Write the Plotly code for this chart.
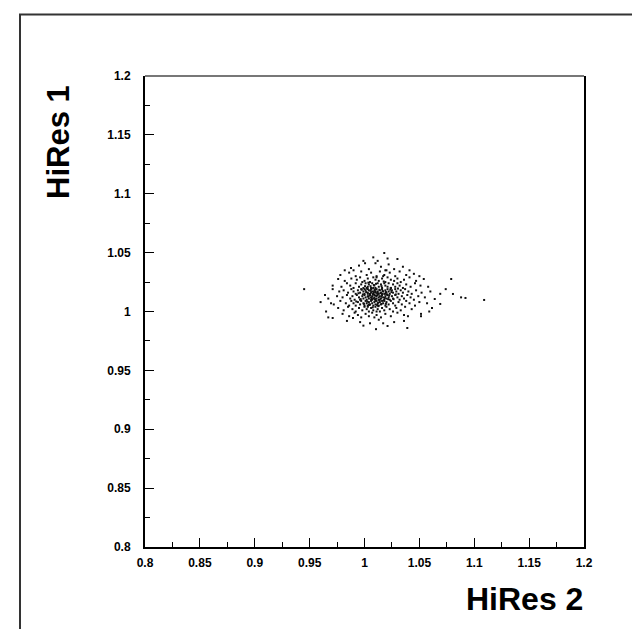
import plotly.graph_objects as go

# ---- data (estimated) ----
pts = [
    # y ~ 1.04 - 1.05
    (1.018, 1.0497), (1.021, 1.045), (1.030, 1.0446), (1.0005, 1.041), (1.012, 1.043), (1.008, 1.046),
    # y ~ 1.035 - 1.045
    (0.9877, 1.037), (0.995, 1.039), (1.004, 1.036), (1.015, 1.038), (1.022, 1.040), (1.027, 1.036),
    (1.035, 1.038), (1.041, 1.035), (0.982, 1.035), (1.010, 1.041), (1.019, 1.035), (0.999, 1.043),
    # y ~ 1.03 - 1.035
    (0.978, 1.031), (0.986, 1.033), (0.992, 1.030), (0.997, 1.034), (1.002, 1.031), (1.006, 1.033),
    (1.011, 1.030), (1.014, 1.034), (1.018, 1.031), (1.023, 1.033), (1.028, 1.030), (1.032, 1.034),
    (1.038, 1.031), (1.045, 1.032), (1.050, 1.030), (0.990, 1.035), (1.020, 1.035),
    # y ~ 1.025 - 1.03
    (0.976, 1.0276), (0.982, 1.026), (0.988, 1.028), (0.993, 1.027), (0.996, 1.029), (1.000, 1.026),
    (1.003, 1.028), (1.005, 1.025), (1.008, 1.029), (1.010, 1.027), (1.013, 1.026), (1.016, 1.028),
    (1.019, 1.025), (1.021, 1.029), (1.024, 1.027), (1.027, 1.026), (1.030, 1.028), (1.033, 1.025),
    (1.036, 1.027), (1.041, 1.029), (1.047, 1.026), (1.054, 1.0276), (1.079, 1.0276), (0.998, 1.025),
    (1.011, 1.029), (1.017, 1.030),
    # y ~ 1.02 - 1.025
    (0.971, 1.022), (0.979, 1.021), (0.984, 1.024), (0.987, 1.022), (0.990, 1.020), (0.992, 1.024),
    (0.995, 1.021), (0.997, 1.023), (0.999, 1.020), (1.001, 1.024), (1.003, 1.021), (1.004, 1.023),
    (1.006, 1.020), (1.007, 1.024), (1.009, 1.022), (1.010, 1.020), (1.012, 1.024), (1.013, 1.021),
    (1.015, 1.023), (1.016, 1.020), (1.018, 1.024), (1.019, 1.022), (1.021, 1.021), (1.022, 1.024),
    (1.024, 1.020), (1.026, 1.023), (1.028, 1.021), (1.030, 1.024), (1.032, 1.022), (1.035, 1.020),
    (1.038, 1.023), (1.042, 1.021), (1.046, 1.024), (1.051, 1.022), (1.058, 1.021), (1.074, 1.019),
    # y ~ 1.015 - 1.02
    (0.964, 1.014), (0.971, 1.019), (0.977, 1.017), (0.981, 1.018), (0.985, 1.016), (0.988, 1.019),
    (0.990, 1.017), (0.992, 1.015), (0.994, 1.018), (0.996, 1.016), (0.997, 1.019), (0.999, 1.017),
    (1.000, 1.015), (1.001, 1.018), (1.002, 1.020), (1.003, 1.016), (1.004, 1.018), (1.005, 1.015),
    (1.006, 1.019), (1.007, 1.017), (1.008, 1.015), (1.009, 1.018), (1.010, 1.016), (1.011, 1.019),
    (1.012, 1.017), (1.013, 1.015), (1.014, 1.018), (1.015, 1.016), (1.016, 1.019), (1.017, 1.017),
    (1.018, 1.015), (1.019, 1.018), (1.020, 1.016), (1.021, 1.019), (1.022, 1.017), (1.023, 1.015),
    (1.025, 1.018), (1.026, 1.016), (1.028, 1.019), (1.029, 1.017), (1.031, 1.015), (1.033, 1.018),
    (1.035, 1.016), (1.037, 1.019), (1.040, 1.017), (1.043, 1.015), (1.047, 1.018), (1.052, 1.016),
    (1.060, 1.017), (1.069, 1.015), (1.0806, 1.0149), (0.945, 1.019), (1.003, 1.019), (1.008, 1.020),
    (1.012, 1.016), (1.016, 1.015), (1.000, 1.019), (1.024, 1.020), (1.010, 1.017), (1.006, 1.016),
    # y ~ 1.01 - 1.015
    (0.967, 1.011), (0.975, 1.013), (0.980, 1.012), (0.984, 1.014), (0.987, 1.011), (0.989, 1.013),
    (0.991, 1.010), (0.993, 1.014), (0.995, 1.012), (0.996, 1.010), (0.998, 1.013), (0.999, 1.011),
    (1.000, 1.014), (1.001, 1.012), (1.002, 1.010), (1.003, 1.013), (1.004, 1.011), (1.005, 1.014),
    (1.006, 1.012), (1.007, 1.010), (1.007, 1.013), (1.008, 1.011), (1.009, 1.014), (1.009, 1.012),
    (1.010, 1.010), (1.011, 1.013), (1.011, 1.011), (1.012, 1.014), (1.013, 1.012), (1.013, 1.010),
    (1.014, 1.013), (1.015, 1.011), (1.016, 1.014), (1.017, 1.012), (1.018, 1.010), (1.019, 1.013),
    (1.020, 1.011), (1.021, 1.014), (1.022, 1.012), (1.023, 1.010), (1.025, 1.013), (1.026, 1.011),
    (1.028, 1.014), (1.030, 1.012), (1.032, 1.010), (1.034, 1.013), (1.036, 1.011), (1.039, 1.014),
    (1.042, 1.012), (1.045, 1.010), (1.049, 1.013), (1.055, 1.012), (1.064, 1.0106), (1.088, 1.012),
    (1.092, 1.0115), (1.109, 1.0098), (1.003, 1.015), (1.008, 1.015), (1.014, 1.010), (1.019, 1.015),
    # y ~ 1.005 - 1.01
    (0.960, 1.008), (0.9695, 1.007), (0.972, 1.006), (0.978, 1.009), (0.983, 1.007), (0.986, 1.005),
    (0.988, 1.009), (0.990, 1.007), (0.992, 1.005), (0.994, 1.008), (0.996, 1.006), (0.997, 1.009),
    (0.999, 1.007), (1.000, 1.005), (1.001, 1.009), (1.002, 1.007), (1.003, 1.005), (1.004, 1.008),
    (1.005, 1.006), (1.006, 1.009), (1.007, 1.007), (1.008, 1.005), (1.009, 1.008), (1.010, 1.006),
    (1.011, 1.009), (1.012, 1.007), (1.013, 1.005), (1.014, 1.008), (1.015, 1.006), (1.016, 1.009),
    (1.017, 1.007), (1.019, 1.005), (1.020, 1.008), (1.022, 1.006), (1.024, 1.009), (1.026, 1.007),
    (1.028, 1.005), (1.031, 1.008), (1.034, 1.006), (1.038, 1.009), (1.041, 1.007), (1.046, 1.005),
    (1.050, 1.008), (1.057, 1.007), (1.069, 1.0064), (1.006, 1.010), (1.010, 1.009), (1.004, 1.006),
    (1.018, 1.009),
    # y ~ 1.0 - 1.005
    (0.965, 1.000), (0.976, 1.003), (0.981, 1.001), (0.985, 1.004), (0.989, 1.002), (0.992, 1.000),
    (0.995, 1.003), (0.998, 1.001), (1.000, 1.004), (1.002, 1.002), (1.004, 1.000), (1.006, 1.003),
    (1.008, 1.001), (1.010, 1.004), (1.012, 1.002), (1.014, 1.000), (1.016, 1.003), (1.018, 1.001),
    (1.020, 1.004), (1.023, 1.002), (1.026, 1.000), (1.029, 1.003), (1.033, 1.001), (1.037, 1.004),
    (1.043, 1.002), (1.059, 1.000), (1.0615, 1.003), (1.011, 1.000), (1.003, 1.004),
    # y ~ 0.995 - 1.0
    (0.967, 0.995), (0.971, 0.9945), (0.980, 0.998), (0.986, 0.996), (0.991, 0.999), (0.994, 0.997),
    (0.997, 0.995), (1.001, 0.998), (1.004, 0.996), (1.007, 0.999), (1.011, 0.997), (1.015, 0.995),
    (1.019, 0.998), (1.024, 0.996), (1.030, 0.999), (1.036, 0.997), (1.0396, 0.996), (1.0515, 0.998),
    (0.9895, 0.9945), (1.009, 0.995),
    # y ~ 0.985 - 0.995
    (0.984, 0.992), (0.996, 0.991), (1.005, 0.990), (1.013, 0.993), (1.021, 0.9877), (1.027, 0.991),
    (1.036, 0.992), (1.0105, 0.985), (1.039, 0.986), (0.999, 0.988), (1.017, 0.990), (1.0515, 0.996),
    # dense core
    (1.0015, 1.0165), (1.0035, 1.0125), (1.0055, 1.0175), (1.0075, 1.0145), (1.0095, 1.0105),
    (1.0115, 1.0155), (1.0135, 1.0185), (1.0155, 1.0125), (1.0175, 1.0095), (1.0195, 1.0165),
    (1.0025, 1.0085), (1.0045, 1.0135), (1.0065, 1.0195), (1.0085, 1.0165), (1.0105, 1.0135),
    (1.0125, 1.0075), (1.0145, 1.0155), (1.0165, 1.0175), (1.0185, 1.0115), (1.0205, 1.0145),
    (0.9985, 1.0145), (0.9965, 1.0105), (0.9975, 1.0185), (1.0225, 1.0135), (1.0245, 1.0165),
    (1.0265, 1.0105), (1.0005, 1.0215), (1.0085, 1.0225), (1.0155, 1.0215), (1.0045, 1.0055),
    (1.0125, 1.0045), (1.0195, 1.0065), (0.9945, 1.0155), (0.9925, 1.0085), (1.0285, 1.0145),
    (1.0305, 1.0195), (1.0105, 1.0235), (1.0035, 1.0245), (1.0175, 1.0255), (1.0065, 1.0115),
    (1.0135, 1.0095), (1.0215, 1.0105), (1.0095, 1.0185), (1.0025, 1.0195), (1.0155, 1.0065),
    (0.9995, 1.0065), (1.0235, 1.0185), (1.0115, 1.0055), (1.0075, 1.0035), (1.0055, 1.0215),
]
hires2 = [p[0] for p in pts]
hires1 = [p[1] for p in pts]

x_title = "HiRes 2"
y_title = "HiRes 1"
tick_vals = [0.8, 0.85, 0.9, 0.95, 1.0, 1.05, 1.1, 1.15, 1.2]
tick_text = ["0.8", "0.85", "0.9", "0.95", "1", "1.05", "1.1", "1.15", "1.2"]

# ---- figure ----
W, H = 640, 629
L, R, T, B = 137, 576, 68, 539
pw, ph = R - L, B - T

def px2paper_x(px):
    return (px - L) / pw

def px2paper_y(py):
    return (B - py) / ph

fig = go.Figure()
fig.add_trace(go.Scatter(
    x=hires2, y=hires1, mode="markers",
    marker=dict(symbol="square", size=2, color="#111111", line=dict(width=0)),
    hoverinfo="skip", showlegend=False,
))

font_family = "Liberation Sans, Arial, sans-serif"
tickfont = dict(family=font_family, size=12, color="black", weight="bold")
axis_common = dict(
    range=[0.8, 1.2], tickvals=tick_vals, ticktext=tick_text,
    showgrid=False, zeroline=False, showline=True, linecolor="black", linewidth=2,
    ticks="inside", ticklen=9, tickwidth=1, tickcolor="black",
    minor=dict(tickvals=[0.825 + 0.05 * i for i in range(8)], ticks="inside", ticklen=5,
               tickwidth=1, tickcolor="black"),
    tickfont=tickfont, fixedrange=True,
)
fig.update_xaxes(**axis_common, mirror=False, ticklabelstandoff=4)
fig.update_yaxes(**axis_common, mirror=True, ticklabelstandoff=10)

# top frame line of the plot area (grey)
fig.add_shape(type="line", xref="paper", yref="paper", x0=0, x1=1, y0=1, y1=1,
              line=dict(color="#777777", width=2))

fig.add_annotation(text=x_title, xref="paper", yref="paper",
                   x=px2paper_x(577), y=px2paper_y(591), xanchor="right", yanchor="middle",
                   showarrow=False,
                   font=dict(family=font_family, size=32, color="black", weight="bold"))
fig.add_annotation(text=y_title, xref="paper", yref="paper", textangle=-90,
                   x=px2paper_x(50), y=px2paper_y(75), xanchor="center", yanchor="top",
                   showarrow=False,
                   font=dict(family=font_family, size=31, color="black", weight="bold"))

# outer canvas frame
fig.add_shape(type="rect", xref="paper", yref="paper",
              x0=px2paper_x(12), x1=px2paper_x(638.5), y0=px2paper_y(660), y1=px2paper_y(6.5),
              line=dict(color="#333333", width=2), fillcolor="rgba(0,0,0,0)", layer="below")

fig.update_layout(
    width=W, height=H, autosize=False,
    margin=dict(l=L, r=W - R, t=T, b=H - B, pad=0),
    paper_bgcolor="white", plot_bgcolor="white",
)

fig.write_html("out.html")
